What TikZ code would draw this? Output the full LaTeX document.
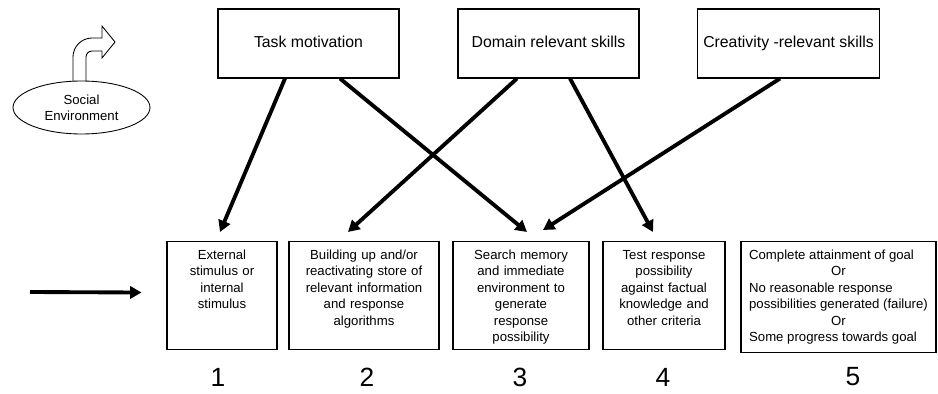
\documentclass[tikz,border=0pt]{standalone}
\usepackage{fontspec}
\setmainfont{Liberation Sans}
\usetikzlibrary{arrows.meta,calc,shapes.geometric}

\begin{document}
\begin{tikzpicture}[x=0.02cm, y=0.02cm,
    factor/.style={draw, line width=0.6pt, minimum width=3.62cm, minimum height=1.38cm, text height=6.5pt, text depth=2pt, font=\fontsize{9}{11}\selectfont},
    stage/.style={draw, line width=0.6pt, anchor=north, inner xsep=0pt, inner ysep=0pt, align=center, text height=0.36cm, text depth=1.8cm, font=\fontsize{7.5}{9.35}\selectfont},
    num/.style={font=\fontsize{15}{18}\selectfont},
    link/.style={line width=2.2pt, -{Triangle[length=6.5pt, width=7pt]}}]
    \useasboundingbox (0, 0) rectangle (938, 393);

    \node [factor] (task) at (308.5, 349.5) {Task motivation};
    \node [factor] (domain) at (548.5, 349.5) {Domain relevant skills};
    \node [factor] (creat) at (788.5, 349.5) {Creativity -relevant skills};

    \node [stage, text width=2.2cm] (stim) at (222, 152) {External\\stimulus or\\internal\\stimulus};
    \node [stage, text width=3cm] (prep) at (364, 152) {Building up and/or\\reactivating store of\\relevant information\\and response\\algorithms};
    \node [stage, text width=2.72cm] (gen) at (521, 152) {Search memory\\and immediate\\environment to\\generate\\response\\possibility};
    \node [stage, text width=2.44cm] (test) at (664, 152) {Test response\\possibility\\against factual\\knowledge and\\other criteria};
    \node [stage, align=left, minimum width=3.9cm, text depth=1.86cm] (outc) at (838.5, 152) {%
        \begin{tabular}[t]{@{}l@{}}
            Complete attainment of goal\\
            \multicolumn{1}{@{}c@{}}{Or}\\
            No reasonable response\\
            possibilities generated (failure)\\
            \multicolumn{1}{@{}c@{}}{Or}\\
            Some progress towards goal
        \end{tabular}};

    \node [num] (n1) at (218, 16) {1};
    \node [num] (n2) at (367, 16) {2};
    \node [num] (n3) at (520, 16) {3};
    \node [num] (n4) at (663, 16) {4};
    \node [num] (n5) at (853, 16) {5};

    \draw [line width=0.5pt, fill=white] (73, 305) -- (73, 336)
        arc [start angle=180, end angle=90, radius=0.38cm] -- (102, 355)
        -- (102, 367) -- (115, 351) -- (102, 335) -- (102, 342) -- (92, 342)
        arc [start angle=90, end angle=180, radius=0.12cm] -- (86, 305) -- cycle;
    \node [draw, ellipse, line width=0.5pt, fill=white, inner sep=0pt, minimum width=2.74cm, minimum height=1.06cm, align=center, font=\fontsize{7.5}{9.1}\selectfont] (social) at (81.5, 285.5) {Social\\Environment};

    \draw [link] ($(task.south)+(-23.5, 0)$) -- ($(stim.north)+(-2, 9)$);
    \draw [link] ($(task.south)+(31.5, 0)$) -- ($(gen.north)+(6, 9)$);
    \draw [link] ($(domain.south)+(-31.5, 0)$) -- ($(prep.north)+(-16, 9)$);
    \draw [link] ($(domain.south)+(21.5, 0)$) -- ($(test.north)+(-11, 9)$);
    \draw [link] ($(creat.south)+(-8.5, 0)$) -- ($(gen.north)+(22, 11)$);

    \coordinate (src) at (30, 101);
    \draw [link] (src) -- ($(stim.west)+(-25, 3)$);
\end{tikzpicture}
\end{document}
